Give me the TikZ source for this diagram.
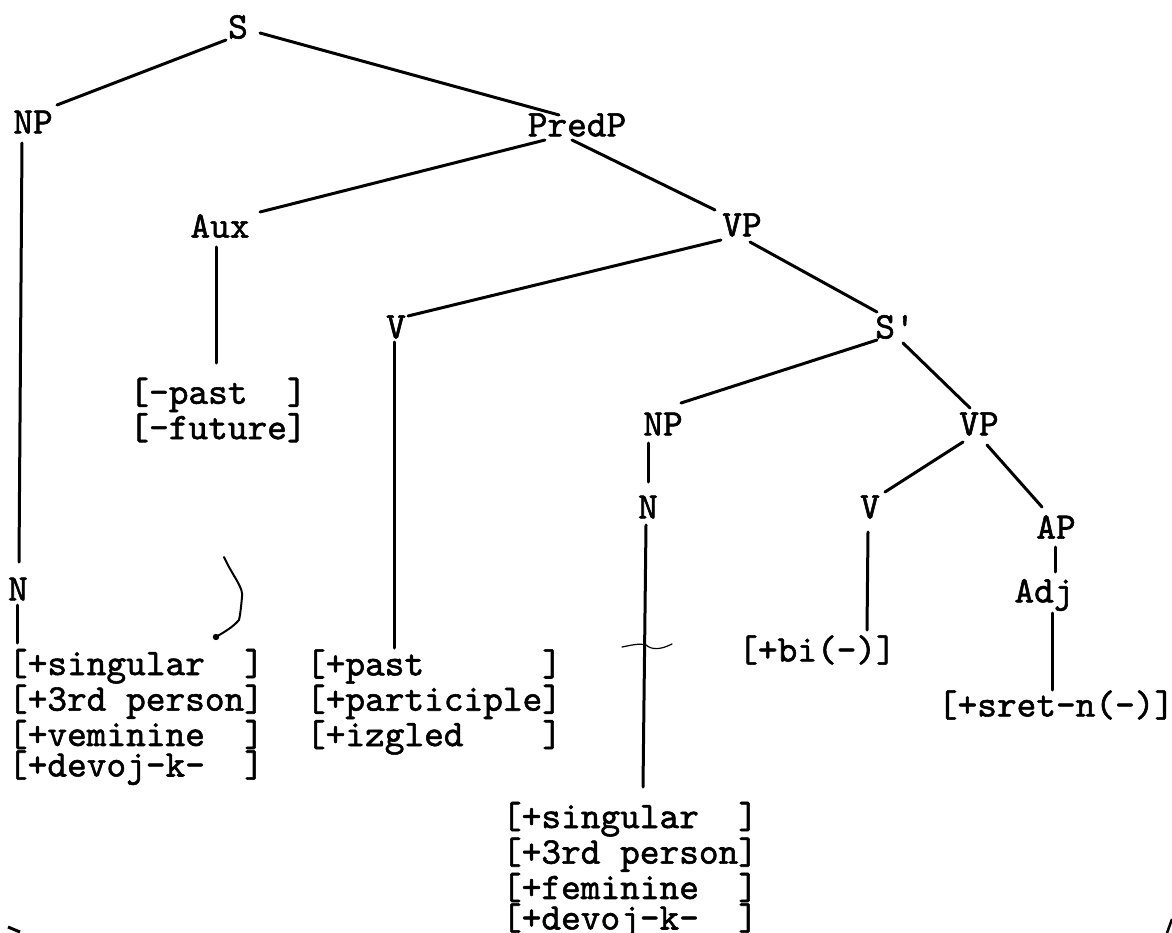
\documentclass[tikz,border=0pt]{standalone}
\usepackage{fontspec}
\newfontfamily\typewriter{lmmono10-regular.otf}[FakeBold=1.5]
\usetikzlibrary{calc}
% one line of a feature bundle, kept in one box
\newcommand\fl[1]{\mbox{#1}}
\begin{document}
\begin{tikzpicture}[x=1pt,y=-1pt,
  typed/.style={font=\typewriter\fontsize{37.5}{30.5}\selectfont, inner sep=0pt},
  feat/.style={typed, align=left},
  branch/.style={line width=3pt, line cap=round},
  pen/.style={line width=1.2pt, line cap=round}]
\fill[white] (0,0) rectangle (1172,933);
\useasboundingbox (0,0) rectangle (1172,933);

% categories
\node[typed] (S)     at (238,27)   {S};
\node[typed] (NP1)   at (33,122)   {NP};
\node[typed] (PredP) at (577,125)  {PredP};
\node[typed] (Aux)   at (220,226)  {Aux};
\node[typed] (VP1)   at (742,225)  {VP};
\node[typed] (V1)    at (396,327)  {V};
\node[typed] (Sbar)  at (895,327)  {S\textquotesingle};
\node[typed] (NP2)   at (663,424)  {NP};
\node[typed] (VP2)   at (979,424)  {VP};
\node[typed] (N2)    at (648,507)  {N};
\node[typed] (V2)    at (870,507)  {V};
\node[typed] (AP)    at (1056,527) {AP};
\node[typed] (Adj)   at (1044,595) {Adj};
\node[typed] (N1)    at (18,589)   {N};

% feature bundles
\node[feat] (fAux) at (218,410) {\fl{[-past\ \ ]}\\\fl{[-future]}};
\node[feat] (fN1)  at (136,717) {\fl{[+singular\ \ ]}\\\fl{[+3rd\ person]}\\\fl{[+veminine\ \ ]}\\\fl{[+devoj-k-\ \ ]}};
\node[feat] (fV1)  at (434,702) {\fl{[+past\ \ \ \ \ \ ]}\\\fl{[+participle]}\\\fl{[+izgled\ \ \ \ ]}};
\node[feat] (fN2)  at (630,870) {\fl{[+singular\ \ ]}\\\fl{[+3rd\ person]}\\\fl{[+feminine\ \ ]}\\\fl{[+devoj-k-\ \ ]}};
\node[feat] (fV2)  at (817,650) {\fl{[+bi(-)]}};
\node[feat] (fAdj) at (1056,705) {\fl{[+sret-n(-)]}};

% branches
\draw[branch] ($(S)+(-12,13)$)     -- ($(NP1)+(24,-17)$);
\draw[branch] ($(S)+(22,6)$)       -- ($(PredP)+(-18,-10)$);
\draw[branch] ($(PredP)+(-32,15)$) -- ($(Aux)+(40,-14)$);
\draw[branch] ($(PredP)+(-5,15)$)  -- ($(VP1)+(-27,-15)$);
\draw[branch] ($(VP1)+(-21,15)$)   -- ($(V1)+(12,-11)$);
\draw[branch] ($(VP1)+(8,17)$)     -- ($(Sbar)+(-18,-15)$);
\draw[branch] ($(Sbar)+(-18,13)$)  -- ($(NP2)+(18,-21)$);
\draw[branch] ($(Sbar)+(8,16)$)    -- ($(VP2)+(-9,-16)$);
\draw[branch] ($(VP2)+(-16,18)$)   -- ($(V2)+(15,-15)$);
\draw[branch] ($(VP2)+(8,21)$)     -- ($(AP)+(-14,-20)$);

% unary lines
\draw[branch] ($(NP1)+(-11,21)$) -- ($(N1)+(1,-27)$);
\draw[branch] ($(N1)+(-1,16)$)   -- ($(N1)+(-1,54)$);
\draw[branch] ($(Aux)+(-4,21)$)  -- ($(fAux)+(-2,-47)$);
\draw[branch] ($(V1)+(-2,15)$)   -- ($(fV1)+(-40,-54)$);
\draw[branch] ($(NP2)+(-15,19)$) -- ($(N2)+(0,-25)$);
\draw[branch] ($(N2)+(-2,18)$)   -- ($(fN2)+(13,-83)$);
\draw[branch] ($(V2)+(-2,25)$)   -- ($(fV2)+(50,-20)$);
\draw[branch] ($(AP)+(-1,20)$)   -- ($(Adj)+(11,-23)$);
\draw[branch] ($(Adj)+(8,18)$)   -- ($(fAdj)+(-4,-15)$);

% pen marks
\draw[pen, line width=2pt] (224,557) .. controls (232,575) and (244,588) .. (242,597)
  .. controls (241,608) and (240,616) .. (239,620)
  .. controls (232,628) and (224,632) .. (216,637);
\fill (216,637) circle (3.2);
\draw[pen] (622,647) .. controls (632,645) and (640,643) .. (646,645)
  .. controls (652,650) and (660,650) .. (672,644);
\draw[line width=3pt] (8,927) -- (20,932);
\draw[line width=2.5pt] (1167,933) -- (1172,919);
\end{tikzpicture}
\end{document}
